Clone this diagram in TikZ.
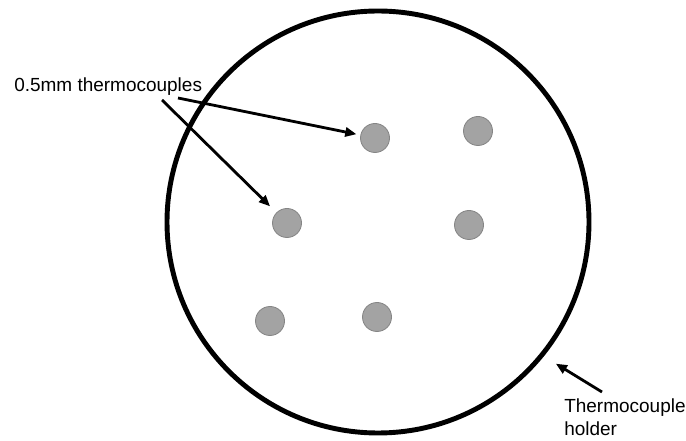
\documentclass[tikz,border=0pt]{standalone}
\usepackage{fontspec}
\setmainfont{Liberation Sans}
\usetikzlibrary{arrows.meta}
\definecolor{fuehlgrau}{HTML}{A3A3A3}
\definecolor{randgrau}{HTML}{858585}
\tikzset{
  halter/.style={circle,draw=black,line width=3.5pt,minimum size=10.55cm,inner sep=0pt},
  fuehler/.style={circle,fill=fuehlgrau,draw=randgrau,line width=0.6pt,minimum size=0.725cm,inner sep=0pt},
  pfeil/.style={-{Triangle[length=2.8mm,width=2.3mm]},line width=2pt},
  beschr/.style={font=\fontsize{13.5}{15.9}\selectfont,inner sep=0pt},
}
\begin{document}
\begin{tikzpicture}
  \useasboundingbox (0,0) rectangle (17.15,11);
  \node[halter] (holder) at (9.45,5.45) {};
  % thermocouples
  \node[fuehler] (d1) at (9.375,7.55) {};
  \node[fuehler] (d2) at (11.95,7.725) {};
  \node[fuehler] (d3) at (7.175,5.425) {};
  \node[fuehler] (d4) at (11.725,5.375) {};
  \node[fuehler] (d5) at (6.75,2.975) {};
  \node[fuehler] (d6) at (9.425,3.075) {};
  % labels
  \node[beschr,anchor=base west] (tlbl) at (0.35,8.71) {0.5mm thermocouples};
  \node[beschr,anchor=base west,align=left] (hlbl) at (14.1,0.12) {Thermocouple\\holder};
  \coordinate (t1) at (4.45,8.55);
  \coordinate (t2) at (4.05,8.5);
  \coordinate (h0) at (15.05,1.2);
  \draw[pfeil,shorten >=0.1cm] (t1) -- (d1);
  \draw[pfeil,shorten >=0.22cm] (t2) -- (d3);
  \draw[pfeil,shorten >=0.35cm] (h0) -- (holder.321);
\end{tikzpicture}
\end{document}
